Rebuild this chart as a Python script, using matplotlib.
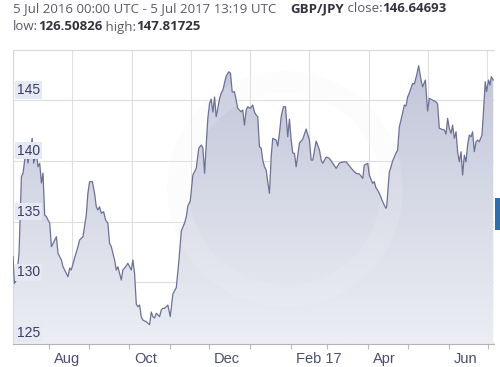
import numpy as np
import pandas as pd
import matplotlib
matplotlib.use('Agg')
import matplotlib.pyplot as plt
import matplotlib.dates as mdates
import matplotlib.transforms as mtransforms
from matplotlib.colors import LinearSegmentedColormap
from matplotlib.patches import Rectangle, Wedge

# GBP/JPY, 5 Jul 2016 00:00 UTC - 5 Jul 2017 13:19 UTC
start = pd.Timestamp('2016-07-05 00:00')
end = pd.Timestamp('2017-07-05 13:19')

# days after start
days = [0.0, 1.1, 2.6, 4.6, 6.4, 7.6, 8.9, 10.2, 11.4, 12.7, 14.6, 15.7, 17.8, 19.0, 20.3,
        21.6, 22.8, 24.1, 25.4, 26.6, 27.9, 29.2, 31.7, 33.0, 34.2, 36.8, 38.0, 40.5, 41.8,
        43.1, 44.3, 46.8, 49.4, 50.6, 53.2, 55.7, 56.9, 58.2, 60.3, 62.0, 63.3, 64.5, 65.8,
        67.1, 68.9, 70.4, 72.1, 73.4, 74.7, 77.2, 78.5, 79.7, 81.0, 82.3, 83.5, 85.6, 87.3,
        88.6, 89.9, 91.1, 92.4, 93.7, 94.9, 96.2, 97.5, 98.7, 101.3, 103.8, 105.1, 106.3,
        107.6, 108.9, 110.1, 111.4, 112.7, 113.9, 115.2, 116.5, 117.7, 119.5, 121.5, 124.1,
        126.0, 127.9, 130.4, 131.7, 132.9, 134.7, 136.7, 139.3, 141.2, 143.1, 144.3, 145.6,
        146.9, 148.1, 149.4, 150.6, 151.9, 153.2, 154.4, 155.7, 156.9, 158.2, 159.5, 162.0,
        164.0, 165.3, 166.6, 168.3, 169.6, 170.8, 173.4, 174.6, 175.9, 177.2, 178.4, 180.3,
        182.2, 183.5, 184.8, 186.0, 187.3, 188.6, 189.8, 191.1, 192.4, 193.6, 194.9, 196.2,
        197.4, 200.0, 201.2, 202.5, 203.8, 205.5, 207.1, 208.8, 210.1, 211.4, 212.6, 213.9,
        215.2, 217.7, 220.2, 222.8, 225.3, 226.6, 227.8, 230.4, 232.9, 234.2, 235.4, 238.0,
        240.5, 243.0, 245.6, 248.1, 250.6, 253.2, 255.7, 258.2, 260.7, 263.3, 265.8, 267.0,
        269.6, 270.8, 273.3, 274.6, 275.9, 277.1, 279.0, 280.9, 283.4, 284.0, 286.0, 287.3,
        288.5, 291.1, 292.3, 293.6, 296.1, 297.4, 298.7, 299.9, 301.2, 303.7, 305.0, 306.8,
        308.3, 310.1, 311.3, 313.4, 315.1, 316.4, 318.9, 321.5, 322.7, 324.0, 327.8, 329.1,
        330.3, 331.6, 332.9, 334.1, 335.4, 336.7, 337.9, 339.2, 340.5, 341.7, 343.0, 344.3,
        345.5, 346.8, 348.1, 349.3, 350.6, 351.9, 353.1, 354.4, 356.4, 357.4, 358.9, 359.9,
        361.4, 362.5, 363.5, 365.0]

rates = [132.10, 129.91, 130.19, 132.41, 138.69, 138.97, 140.06, 140.75, 139.82, 140.75,
         141.85, 139.82, 140.64, 139.51, 139.79, 138.17, 138.99, 135.54, 135.40, 135.12,
         134.88, 132.93, 133.48, 133.75, 132.38, 131.83, 131.28, 130.74, 130.46, 131.17,
         131.01, 132.00, 132.93, 133.48, 133.75, 135.54, 137.32, 138.28, 138.28, 137.32,
         136.22, 135.95, 136.22, 135.68, 135.81, 135.12, 134.85, 133.21, 132.93, 131.83,
         131.01, 131.28, 130.74, 130.19, 131.01, 131.28, 131.56, 131.28, 131.01, 131.83,
         130.74, 128.21, 127.99, 128.13, 127.14, 126.89, 126.75, 126.51, 127.55, 127.17,
         127.06, 127.45, 127.31, 127.17, 127.72, 127.86, 127.86, 127.99, 128.13, 127.17,
         129.03, 129.57, 131.67, 134.22, 134.88, 135.40, 136.28, 136.69, 138.83, 139.40,
         141.05, 141.30, 141.05, 138.97, 141.44, 143.52, 144.73, 145.08, 144.01, 145.25,
         143.63, 144.34, 145.08, 145.55, 145.82, 146.98, 147.33, 147.20, 145.66, 145.68,
         145.00, 144.32, 144.04, 144.18, 142.94, 144.18, 144.45, 144.32, 144.59, 144.01,
         143.77, 143.63, 141.16, 141.05, 140.06, 139.51, 139.24, 138.28, 137.32, 140.31,
         141.85, 141.71, 141.21, 142.26, 143.63, 144.45, 144.45, 141.98, 143.44, 141.71,
         140.64, 140.61, 139.51, 141.46, 141.79, 142.61, 141.71, 140.06, 140.06, 141.63,
         140.88, 140.06, 139.79, 140.31, 140.20, 139.79, 139.38, 139.82, 139.90, 139.92,
         139.57, 139.24, 138.97, 138.91, 138.56, 139.65, 139.79, 138.83, 138.14, 138.28,
         137.76, 137.59, 137.18, 136.63, 136.09, 136.22, 139.07, 139.51, 139.98, 140.64,
         140.88, 142.78, 143.93, 144.59, 144.51, 145.25, 145.58, 146.37, 146.32, 147.06,
         147.82, 146.65, 146.09, 146.65, 144.09, 145.14, 145.00, 144.84, 144.67, 142.67,
         142.53, 142.20, 143.49, 142.67, 142.26, 142.94, 141.85, 142.39, 140.75, 139.92,
         140.75, 138.83, 140.47, 139.92, 141.30, 142.12, 141.98, 142.39, 140.75, 141.57,
         141.71, 141.57, 142.12, 143.77, 146.51, 145.68, 146.65, 146.23, 146.92, 146.65]

y_ticks = [125, 130, 135, 140, 145]
month_labels = ['Aug', '', 'Oct', '', 'Dec', '', 'Feb 17', '', 'Apr', '', 'Jun', '']

dates = start + pd.to_timedelta(days, unit='D')
x = mdates.date2num(dates)
y = np.array(rates)

fig = plt.figure(figsize=(5.0, 3.67), dpi=100)
ax = fig.add_axes([13 / 500, 23 / 367, 481 / 500, 294 / 367])
ymin, ymax = 124.92, 149.12
x0, x1 = mdates.date2num(start), mdates.date2num(end)
ax.set_xlim(x0, x1)
ax.set_ylim(ymin, ymax)

# grid: vertical lines on a fixed pixel raster, horizontal at the price ticks
for f in np.linspace(0, 474, 9) / 481:
    ax.axvline(x0 + f * (x1 - x0), color='#dedede', lw=0.8, zorder=1)
for v in y_ticks:
    ax.axhline(v, color='#dedede', lw=0.8, zorder=1)

# gradient area under the line
cmap = LinearSegmentedColormap.from_list('fill', ['#eceef4', '#c3c6d9'])
grad = np.linspace(0, 1, 256).reshape(-1, 1)
img = ax.imshow(grad, cmap=cmap, origin='lower', aspect='auto',
                extent=[x0, x1, ymin, 147.5], zorder=2)
poly = ax.fill_between(x, y, ymin, color='none', lw=0, zorder=2)
img.set_clip_path(poly.get_paths()[0], transform=ax.transData)

# faint watermark ring
ring = Wedge((2.85, 1.78), 1.18, 0, 360, width=0.22, transform=fig.dpi_scale_trans,
             facecolor='#f2f3f7', edgecolor='none', alpha=0.18, zorder=3)
ax.add_artist(ring)
ring.set_clip_path(ax.patch)

ax.plot(x, y, color='#6c7196', lw=0.9, zorder=4)

# y labels sit inside the plot, above their gridline
ax.set_yticks(y_ticks)
ax.set_yticklabels([])
ax.tick_params(axis='y', length=0)
ytrans = mtransforms.blended_transform_factory(ax.transAxes, ax.transData)
for v in y_ticks:
    ax.text(4 / 481, v + 0.25, str(v), transform=ytrans, ha='left', va='bottom',
            fontsize=10, family='Liberation Sans', color='#3a3d66', zorder=5,
            bbox=dict(boxstyle='square,pad=0.12', fc='#e6e8f3', ec='none'))

ax.set_xticks(mdates.date2num(pd.date_range('2016-08-01', '2017-07-01', freq='MS')))
ax.set_xticklabels(month_labels, ha='left', fontsize=10.5, family='Liberation Sans',
                   color='#4a4e70')
ax.tick_params(axis='x', length=3.5, color='#bbbbbb', pad=2.5)
shift = mtransforms.ScaledTranslation(5 / 100, 0, fig.dpi_scale_trans)
for lab in ax.get_xticklabels():
    lab.set_transform(lab.get_transform() + shift)

for side in ['top', 'left', 'right']:
    ax.spines[side].set_color('#d8d8d8')
    ax.spines[side].set_linewidth(0.8)
ax.spines['right'].set_visible(False)
ax.spines['bottom'].set_color('#b5b5b5')
ax.spines['bottom'].set_linewidth(0.8)

# header
hd = dict(fontsize=9.5, family='Open Sans', va='center')
fig.text(13 / 500, 1 - 9 / 367, '5 Jul 2016 00:00 UTC - 5 Jul 2017 13:19 UTC',
         color='#5a5a66', **hd)
t = fig.text(290 / 500, 1 - 9 / 367, 'GBP/JPY', color='#333340', weight='bold', **hd)
t = ax.annotate(' close:', xy=(1, 0.5), xycoords=t, color='#5a5a66', ha='left', **hd)
ax.annotate('146.64693', xy=(1, 0.5), xycoords=t, color='#333340', weight='bold',
            ha='left', **hd)
t = fig.text(13 / 500, 1 - 27 / 367, 'low:', color='#5a5a66', **hd)
t = ax.annotate('126.50826', xy=(1, 0.5), xycoords=t, color='#333340', weight='bold',
                ha='left', **hd)
t = ax.annotate(' high:', xy=(1, 0.5), xycoords=t, color='#5a5a66', ha='left', **hd)
ax.annotate('147.81725', xy=(1, 0.5), xycoords=t, color='#333340', weight='bold',
            ha='left', **hd)

# scroll marker on the right edge
fig.add_artist(Rectangle((495 / 500, 1 - 230 / 367), 5 / 500, 32 / 367,
                         transform=fig.transFigure, fc='#2f6ea8', ec='none'))

fig.savefig('out.png', dpi=100)
